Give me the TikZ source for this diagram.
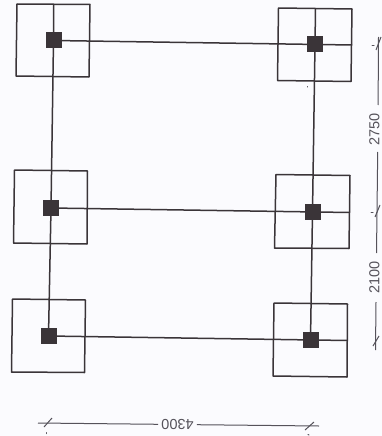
\documentclass[tikz,border=0pt]{standalone}
\usepackage{fontspec}
\setmainfont{Liberation Sans}
\definecolor{ink}{HTML}{3A3438}
\definecolor{dimink}{HTML}{55525A}
\definecolor{paper}{HTML}{FBFBFE}
\tikzset{x=1pt,y=-1pt,
 wall/.style={draw=ink,line width=1.5pt,line join=round},
 beam/.style={draw=ink,line width=1.5pt},
 column/.style={fill=ink,draw=none,minimum size=16pt,inner sep=0pt,outer sep=0pt},
 dim/.style={draw=dimink,line width=1pt},
 speck/.style={draw=dimink,line width=1pt,line cap=round},
 dimtext/.style={text=dimink,font=\fontsize{14.5pt}{16pt}\selectfont,inner sep=3pt}}
\begin{document}
\begin{tikzpicture}
\path[use as bounding box,fill=paper] (0,0) rectangle (382,436);
% footing pads
\draw[wall] (17,4) -- (90,4.5) -- (89,77) -- (16,76) -- cycle;
\draw[wall] (14.5,170) -- (87.5,171) -- (87,244) -- (13.5,243) -- cycle;
\draw[wall] (12.5,299) -- (85.5,300) -- (84.5,372.5) -- (11.5,372) -- cycle;
\draw[wall] (278.5,8) -- (352,9) -- (351,81.5) -- (277.5,80.5) -- cycle;
\draw[wall] (276,174.5) -- (350,175.5) -- (349,248.5) -- (274.5,248) -- cycle;
\draw[wall] (274,303) -- (347.5,304) -- (347,377) -- (273,376) -- cycle;
% columns
\node[column] (c1) at (53.5,40.5) {};
\node[column] (c2) at (51,208) {};
\node[column] (c3) at (48.5,336) {};
\node[column] (c4) at (315,44.5) {};
\node[column] (c5) at (312.5,212) {};
\node[column] (c6) at (310.5,340) {};
\coordinate (t1) at (53.5,4);
\coordinate (t4) at (315.5,8.5);
\coordinate (r4) at (352,45);
\coordinate (r5) at (350,212.5);
\coordinate (r6) at (347.5,340.5);
% beams
\draw[beam] (t1) -- (c1.center) -- (c2.center) -- (c3.center);
\draw[beam] (t4) -- (c4.center) -- (c5.center) -- (c6.center);
\draw[beam] (c1.center) -- (r4);
\draw[beam] (c2.center) -- (r5);
\draw[beam] (c3.center) -- (r6);
% dimensions
\node[dimtext,rotate=90] (l1) at (374.5,129.5) {2750};
\node[dimtext,rotate=90] (l2) at (374.5,277.5) {2100};
\node[dimtext,rotate=180] (l3) at (177.5,424.5) {4300};
\coordinate (d1) at (378.5,37);
\coordinate (d2) at (377,212);
\coordinate (d3) at (375.5,350);
\coordinate (d4) at (38,423);
\coordinate (d5) at (319,426);
\coordinate (g1) at (378.1,105);
\coordinate (g2) at (377.7,152);
\coordinate (g3) at (376.5,253);
\coordinate (g4) at (376,302);
\draw[dim] (d1) -- (g1) (g2) -- (d2);
\draw[dim] (d2) -- (g3) (g4) -- (d3);
\draw[dim] (d4) -- (l3);
\draw[dim] (l3) -- (d5);
\draw[dim] (376,50) -- (381,37);
\draw[dim] (375,217) -- (380,205);
\draw[dim] (373,346) -- (379,336);
\draw[dim] (44,427) -- (52,418);
\draw[dim] (305,430) -- (314,422);
% specks
\draw[speck] (372,46) -- (374,46);
\draw[speck] (371,212) -- (373,212);
\draw[speck] (307,86.5) -- (307,87);
\draw[speck] (46,432.5) -- (46,433.5);
\draw[speck] (308,434.5) -- (309,435);
\end{tikzpicture}
\end{document}
